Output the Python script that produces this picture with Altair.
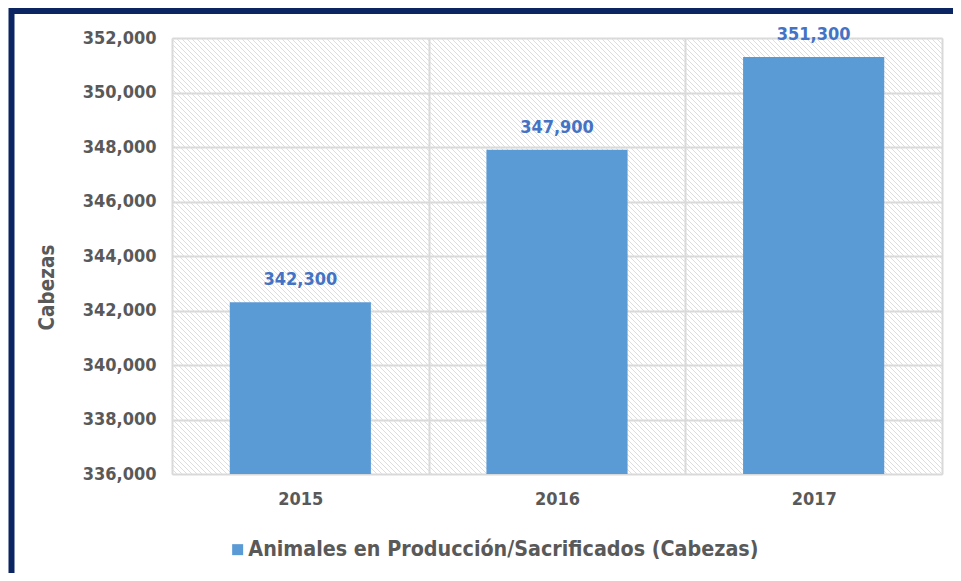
import altair as alt
import pandas as pd
import numpy as np

years = ["2015", "2016", "2017"]
values = [342300, 347900, 351300]
series_name = "Animales en Producción/Sacrificados (Cabezas)"

W, H = 770, 436
FONT = "DejaVu Sans Condensed"
GRAY = "#595959"

df = pd.DataFrame({"year": years, "value": values, "serie": [series_name] * 3})

# decorative hatch (pixel space)
starts = np.arange(-H, W + 5, 5)
hatch = pd.DataFrame({"x1": starts, "y1": 0, "x2": starts + H, "y2": H})

hatch_layer = alt.Chart(hatch).mark_rule(color="#dddddd", strokeWidth=1, clip=True).encode(
    x=alt.X("x1:Q", scale=None, axis=None),
    y=alt.Y("y1:Q", scale=None, axis=None),
    x2="x2:Q",
    y2="y2:Q",
)

ydom = alt.Scale(domain=[336000, 352000])

base = alt.Chart(df).encode(
    x=alt.X("year:N", title=None, scale=alt.Scale(paddingInner=0, paddingOuter=0),
            axis=alt.Axis(labelAngle=0, labelFont=FONT, labelFontSize=18, labelFontWeight="bold",
                          labelColor=GRAY, labelPadding=16, ticks=False, domain=False,
                          grid=True, gridColor="#d9d9d9", gridWidth=2, tickBand="extent")),
)

bars = base.mark_bar(width=alt.RelativeBandSize(0.55), clip=True).encode(
    y=alt.Y("value:Q", scale=ydom, title="Cabezas",
            axis=alt.Axis(values=list(range(336000, 352001, 2000)), format=",.0f",
                          labelFont=FONT, labelFontSize=18, labelFontWeight="bold", labelColor=GRAY,
                          labelPadding=16, ticks=False, domain=False,
                          grid=True, gridColor="#d9d9d9", gridWidth=2,
                          titleFont=FONT, titleFontSize=20.5, titleFontWeight="bold", titleColor=GRAY,
                          titlePadding=25, titleY=249)),
    color=alt.Color("serie:N", scale=alt.Scale(range=["#5b9bd5"]), title=None,
                    legend=alt.Legend(orient="none", legendX=55, legendY=501, symbolType="square",
                                      symbolSize=121, symbolStrokeWidth=0, labelOffset=0,
                                      labelFont=FONT, labelFontSize=21.3, labelFontWeight="bold",
                                      labelColor=GRAY, labelLimit=900)),
)

labels = base.mark_text(dy=-13, baseline="bottom", font=FONT, fontSize=18, fontWeight="bold",
                        color="#4472c4").encode(
    y=alt.Y("value:Q", scale=ydom),
    text=alt.Text("value:Q", format=",.0f"),
)

border = alt.Chart(pd.DataFrame({"a": [0]})).mark_rect(fill=None, stroke="#0b2563", strokeWidth=6).encode(
    x=alt.value(-160.5), x2=alt.value(820), y=alt.value(-27), y2=alt.value(600)
)

chart = alt.layer(hatch_layer, bars, labels, border).properties(
    width=W, height=H,
    autosize=alt.AutoSizeParams(type="none"),
    padding={"left": 164, "top": 30, "right": 11, "bottom": 99},
).configure_view(stroke="#d9d9d9", strokeWidth=2).configure(background="white")

chart.save("out.html", embed_options={"renderer": "svg", "actions": False})
